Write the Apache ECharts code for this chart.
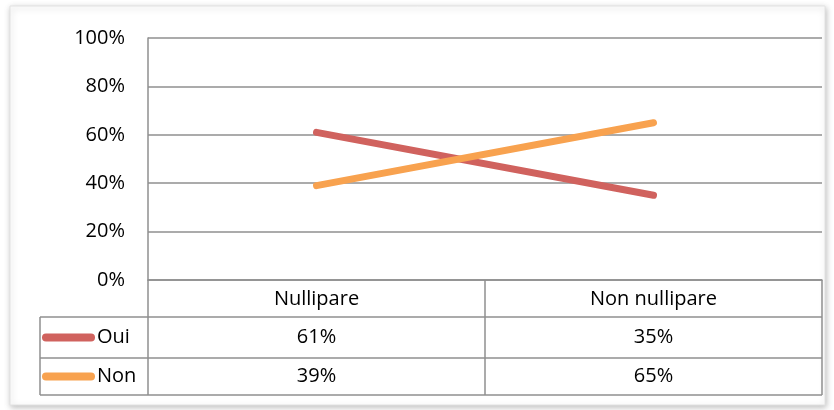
<!DOCTYPE html>
<html>
<head>
<meta charset="utf-8">
<script src="https://cdn.jsdelivr.net/npm/echarts@6/dist/echarts.min.js"></script>
<style>
  html, body { margin: 0; padding: 0; background: #fff; }
  #chart { width: 834px; height: 410px; }
</style>
</head>
<body>
<div id="chart"></div>
<script>
// données
const categories = ['Nullipare', 'Non nullipare'];
const seriesNames = ['Oui', 'Non'];
const oui = [61, 35];
const non = [39, 65];
const seriesColors = ['#d0625e', '#f8a24f'];

const FONT = '"Open Sans"';
const GRID_COLOR = '#8f8f8f';

const chart = echarts.init(document.getElementById('chart'));

const option = {
  animation: false,
  backgroundColor: '#fff',
  grid: { left: 148, right: 12, top: 38, bottom: 130 },
  xAxis: {
    type: 'category',
    data: categories,
    boundaryGap: true,
    axisLine: { show: true, lineStyle: { color: GRID_COLOR, width: 1.5 } },
    axisTick: { show: false },
    axisLabel: { show: false }
  },
  yAxis: {
    type: 'value',
    min: 0,
    max: 100,
    interval: 20,
    axisLine: { show: true, lineStyle: { color: GRID_COLOR, width: 1.5 } },
    axisTick: { show: false },
    axisLabel: {
      formatter: '{value}%',
      color: '#000',
      fontFamily: FONT,
      fontSize: 20,
      margin: 23
    },
    splitLine: { lineStyle: { color: GRID_COLOR, width: 1.5 } }
  },
  series: [
    {
      name: seriesNames[0],
      type: 'line',
      data: oui,
      symbol: 'none',
      lineStyle: { color: seriesColors[0], width: 7, cap: 'round' },
      z: 3
    },
    {
      name: seriesNames[1],
      type: 'line',
      data: non,
      symbol: 'none',
      lineStyle: { color: seriesColors[1], width: 7, cap: 'round' },
      z: 4
    }
  ]
};

chart.setOption(option);

// tableau de données sous le graphique
const buildTable = () => {
  const left = 40, axisX = 148, right = 822;
  const rows = [280, 317, 358, 395];
  const lineStyle = { stroke: GRID_COLOR, lineWidth: 1.5 };
  const els = [];

  // cadre extérieur avec ombre
  els.push({
    type: 'rect', z: -10,
    shape: { x: 10, y: 6, width: 815, height: 399 },
    style: { fill: '#fff', stroke: '#e2e2e2', lineWidth: 1,
      shadowBlur: 6, shadowColor: 'rgba(0,0,0,0.25)', shadowOffsetX: 1, shadowOffsetY: 2 }
  });

  // lignes horizontales
  els.push({ type: 'line', shape: { x1: axisX, y1: rows[1], x2: right, y2: rows[1] }, style: lineStyle });
  els.push({ type: 'line', shape: { x1: left, y1: rows[1], x2: axisX, y2: rows[1] }, style: lineStyle });
  els.push({ type: 'line', shape: { x1: left, y1: rows[2], x2: right, y2: rows[2] }, style: lineStyle });
  els.push({ type: 'line', shape: { x1: left, y1: rows[3], x2: right, y2: rows[3] }, style: lineStyle });

  // lignes verticales
  els.push({ type: 'line', shape: { x1: axisX, y1: rows[0], x2: axisX, y2: rows[3] }, style: lineStyle });
  els.push({ type: 'line', shape: { x1: left, y1: rows[1], x2: left, y2: rows[3] }, style: lineStyle });
  els.push({ type: 'line', shape: { x1: right, y1: rows[0], x2: right, y2: rows[3] }, style: lineStyle });
  for (let i = 1; i < categories.length; i++) {
    const a = chart.convertToPixel({ xAxisIndex: 0 }, categories[i - 1]);
    const b = chart.convertToPixel({ xAxisIndex: 0 }, categories[i]);
    const mid = (a + b) / 2;
    els.push({ type: 'line', shape: { x1: mid, y1: rows[0], x2: mid, y2: rows[3] }, style: lineStyle });
  }

  // en-têtes
  categories.forEach((c) => {
    const x = chart.convertToPixel({ xAxisIndex: 0 }, c);
    els.push({
      type: 'text', x: x, y: (rows[0] + rows[1]) / 2 + 1,
      style: { text: c, fill: '#000', font: '20px ' + FONT, align: 'center', verticalAlign: 'middle' }
    });
  });

  // lignes de valeurs + légende
  [oui, non].forEach((vals, r) => {
    const cy = (rows[r + 1] + rows[r + 2]) / 2;
    els.push({
      type: 'line',
      shape: { x1: 46, y1: cy, x2: 91, y2: cy },
      style: { stroke: seriesColors[r], lineWidth: 8, lineCap: 'round' }
    });
    els.push({
      type: 'text', x: 97, y: cy,
      style: { text: seriesNames[r], fill: '#000', font: '20px ' + FONT, verticalAlign: 'middle' }
    });
    vals.forEach((v, i) => {
      const x = chart.convertToPixel({ xAxisIndex: 0 }, categories[i]);
      els.push({
        type: 'text', x: x, y: cy,
        style: { text: v + '%', fill: '#000', font: '20px ' + FONT, align: 'center', verticalAlign: 'middle' }
      });
    });
  });

  chart.setOption({ graphic: { elements: els } });
};

buildTable();
</script>
</body>
</html>
